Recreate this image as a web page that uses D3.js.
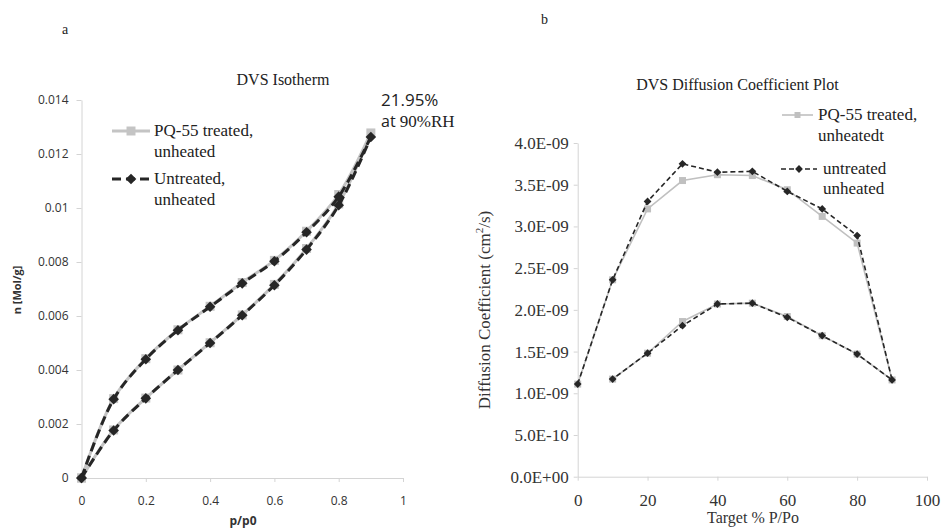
<!DOCTYPE html>
<html>
<head>
<meta charset="utf-8">
<script src="https://cdn.jsdelivr.net/npm/d3@7"></script>
<style>
  body { margin: 0; background: #fff; }
  svg { display: block; }
  .axis path, .axis line { stroke: #d4d4d4; }
  .sans text { font-family: "Open Sans", sans-serif; font-size: 12px; fill: #333; }
  .serif text { font-family: "Liberation Serif", "Times New Roman", serif; font-size: 17px; fill: #333; }
</style>
</head>
<body>
<div id="chart"></div>
<script>
// Data: panel a (DVS isotherm) - adsorption 0 -> 0.9, then desorption 0.9 -> 0
var isoX = [0, 0.1, 0.2, 0.3, 0.4, 0.5, 0.6, 0.7, 0.8, 0.9, 0.8, 0.7, 0.6, 0.5, 0.4, 0.3, 0.2, 0.1, 0];
var isoPQ = [0, 0.00178, 0.00296, 0.00400, 0.00501, 0.00604, 0.00717, 0.00850, 0.01015, 0.01278,
             0.01050, 0.00914, 0.00806, 0.00724, 0.00636, 0.00549, 0.00442, 0.00294, 0];
var isoUntreated = [0, 0.00176, 0.00295, 0.00400, 0.00500, 0.00603, 0.00714, 0.00846, 0.01010, 0.01263,
                    0.01042, 0.00910, 0.00803, 0.00721, 0.00634, 0.00547, 0.00440, 0.00292, 0];
var isoXTicks = [0, 0.2, 0.4, 0.6, 0.8, 1];
var isoYTicks = [0, 0.002, 0.004, 0.006, 0.008, 0.01, 0.012, 0.014];

// Data: panel b (diffusion coefficient) - sorption 0 -> 90, then desorption 80 -> 10
var difX = [0, 10, 20, 30, 40, 50, 60, 70, 80, 90, 80, 70, 60, 50, 40, 30, 20, 10];
var difPQ = [1.11e-9, 2.36e-9, 3.21e-9, 3.55e-9, 3.62e-9, 3.61e-9, 3.44e-9, 3.12e-9, 2.80e-9, 1.16e-9,
             1.47e-9, 1.69e-9, 1.92e-9, 2.08e-9, 2.07e-9, 1.86e-9, 1.48e-9, 1.17e-9];
var difUntreated = [1.11e-9, 2.36e-9, 3.30e-9, 3.75e-9, 3.65e-9, 3.66e-9, 3.42e-9, 3.21e-9, 2.89e-9, 1.16e-9,
                    1.47e-9, 1.69e-9, 1.91e-9, 2.08e-9, 2.07e-9, 1.81e-9, 1.48e-9, 1.17e-9];
var difXTicks = [0, 20, 40, 60, 80, 100];
var difYTicks = [0, 5e-10, 1e-9, 1.5e-9, 2e-9, 2.5e-9, 3e-9, 3.5e-9, 4e-9];
var difYLabels = ["0.0E+00", "5.0E-10", "1.0E-09", "1.5E-09", "2.0E-09", "2.5E-09", "3.0E-09", "3.5E-09", "4.0E-09"];

var svg = d3.select("#chart").append("svg")
  .attr("width", 942)
  .attr("height", 529);

svg.append("rect").attr("width", 942).attr("height", 529).attr("fill", "#fff");

var serif = "'Liberation Serif', 'Times New Roman', serif";
var sans = "'Open Sans', sans-serif";

function zipPts(xs, ys) {
  return xs.map(function(x, i) { return [x, ys[i]]; });
}

// ============================== Panel a ==============================
var xA = d3.scaleLinear().domain([0, 1]).range([81.5, 403]);
var yA = d3.scaleLinear().domain([0, 0.014]).range([478, 100]);

svg.append("g")
  .attr("class", "axis sans")
  .attr("transform", "translate(0,478)")
  .call(d3.axisBottom(xA).tickValues(isoXTicks).tickFormat(d3.format("~g")).tickSizeInner(4).tickSizeOuter(0).tickPadding(14));

svg.append("g")
  .attr("class", "axis sans")
  .attr("transform", "translate(81.5,0)")
  .call(d3.axisLeft(yA).tickValues(isoYTicks).tickFormat(d3.format("~g")).tickSizeInner(5).tickSizeOuter(0).tickPadding(8));

var smooth = d3.line().x(function(d) { return xA(d[0]); }).y(function(d) { return yA(d[1]); })
  .curve(d3.curveCatmullRom.alpha(0.5));

function drawIso(ys, style) {
  var pts = zipPts(isoX, ys);
  [pts.slice(0, 10), pts.slice(9)].forEach(function(branch) {
    svg.append("path")
      .attr("d", smooth(branch))
      .attr("fill", "none")
      .attr("stroke", style.color)
      .attr("stroke-width", style.width)
      .attr("stroke-dasharray", style.dash);
  });
  svg.append("g").selectAll("path")
    .data(pts)
    .enter()
    .append("path")
    .attr("d", d3.symbol(d3.symbolSquare, style.size * style.size))
    .attr("transform", function(d) {
      return "translate(" + xA(d[0]) + "," + yA(d[1]) + ") rotate(" + style.rot + ")";
    })
    .attr("fill", style.fill);
}

var pqStyleA = { color: "#c4c4c4", width: 3, dash: null, size: 9, rot: 0, fill: "#c4c4c4" };
var unStyleA = { color: "#262626", width: 3, dash: "9,5", size: 7.5, rot: 45, fill: "#262626" };
drawIso(isoPQ, pqStyleA);
drawIso(isoUntreated, unStyleA);

// legend a
function legendEntry(x1, x2, y, style, size) {
  svg.append("line")
    .attr("x1", x1).attr("x2", x2).attr("y1", y).attr("y2", y)
    .attr("stroke", style.color)
    .attr("stroke-width", style.width)
    .attr("stroke-dasharray", style.dash);
  svg.append("path")
    .attr("d", d3.symbol(d3.symbolSquare, size * size))
    .attr("transform", "translate(" + ((x1 + x2) / 2) + "," + y + ") rotate(" + style.rot + ")")
    .attr("fill", style.fill);
}
legendEntry(112, 150, 131, pqStyleA, 9);
legendEntry(112, 150, 179, unStyleA, 7.5);

function textLines(x, y, lines, gap, size) {
  lines.forEach(function(t, i) {
    svg.append("text")
      .attr("x", x).attr("y", y + i * gap)
      .attr("font-family", serif).attr("font-size", size).attr("fill", "#222")
      .text(t);
  });
}
textLines(154, 136, ["PQ-55 treated,", "unheated"], 21, 17);
textLines(154, 184, ["Untreated,", "unheated"], 21, 17);

svg.append("text")
  .attr("x", 283).attr("y", 85)
  .attr("text-anchor", "middle")
  .attr("font-family", serif).attr("font-size", 16).attr("fill", "#222")
  .text("DVS Isotherm");

svg.append("text")
  .attr("x", 62).attr("y", 34)
  .attr("font-family", serif).attr("font-size", 14).attr("fill", "#222")
  .text("a");

svg.append("text")
  .attr("x", 381).attr("y", 106)
  .attr("font-family", sans).attr("font-size", 17).attr("fill", "#222")
  .text("21.95%");

var rh = svg.append("text")
  .attr("x", 381).attr("y", 127)
  .attr("fill", "#222");
rh.append("tspan").attr("font-family", sans).attr("font-size", 16).text("at ");
rh.append("tspan").attr("font-family", serif).attr("font-size", 17).text("90%RH");

svg.append("text")
  .attr("x", 243).attr("y", 525)
  .attr("text-anchor", "middle")
  .attr("font-family", sans).attr("font-size", 12).attr("font-weight", "bold").attr("fill", "#333")
  .text("p/p0");

svg.append("text")
  .attr("transform", "translate(21,290) rotate(-90)")
  .attr("text-anchor", "middle")
  .attr("font-family", sans).attr("font-size", 11).attr("font-weight", "bold").attr("fill", "#333")
  .text("n [Mol/g]");

// ============================== Panel b ==============================
var xB = d3.scaleLinear().domain([0, 100]).range([577.7, 927]);
var yB = d3.scaleLinear().domain([0, 4e-9]).range([476.7, 143]);

svg.append("g")
  .attr("class", "axis serif")
  .attr("transform", "translate(0,476.7)")
  .call(d3.axisBottom(xB).tickValues(difXTicks).tickSizeInner(4).tickSizeOuter(0).tickPadding(13));

svg.append("g")
  .attr("class", "axis serif")
  .attr("transform", "translate(577.7,0)")
  .call(d3.axisLeft(yB).tickValues(difYTicks)
    .tickFormat(function(d, i) { return difYLabels[i]; })
    .tickSizeInner(4).tickSizeOuter(0).tickPadding(5));

var straight = d3.line().x(function(d) { return xB(d[0]); }).y(function(d) { return yB(d[1]); });

function drawDif(ys, style) {
  var pts = zipPts(difX, ys);
  svg.append("path")
    .attr("d", straight(pts))
    .attr("fill", "none")
    .attr("stroke", style.color)
    .attr("stroke-width", style.width)
    .attr("stroke-dasharray", style.dash);
  svg.append("g").selectAll("path")
    .data(pts)
    .enter()
    .append("path")
    .attr("d", d3.symbol(d3.symbolSquare, style.size * style.size))
    .attr("transform", function(d) {
      return "translate(" + xB(d[0]) + "," + yB(d[1]) + ") rotate(" + style.rot + ")";
    })
    .attr("fill", style.fill);
}

var pqStyleB = { color: "#c0c0c0", width: 1.6, dash: null, size: 7, rot: 0, fill: "#c0c0c0" };
var unStyleB = { color: "#262626", width: 1.6, dash: "5,3", size: 5.5, rot: 45, fill: "#262626" };
drawDif(difPQ, pqStyleB);
drawDif(difUntreated, unStyleB);

legendEntry(782, 813, 115, pqStyleB, 6);
legendEntry(781, 817, 169, unStyleB, 5.5);
textLines(818, 120, ["PQ-55 treated,", "unheatedt"], 21, 17);
textLines(823, 174, ["untreated", "unheated"], 20, 17);

svg.append("text")
  .attr("x", 737.5).attr("y", 90)
  .attr("text-anchor", "middle")
  .attr("font-family", serif).attr("font-size", 16).attr("fill", "#222")
  .text("DVS Diffusion Coefficient Plot");

svg.append("text")
  .attr("x", 541).attr("y", 24)
  .attr("font-family", serif).attr("font-size", 14).attr("fill", "#222")
  .text("b");

svg.append("text")
  .attr("x", 753).attr("y", 523)
  .attr("text-anchor", "middle")
  .attr("font-family", serif).attr("font-size", 16).attr("fill", "#333")
  .text("Target % P/Po");

var yl = svg.append("text")
  .attr("transform", "translate(490,310) rotate(-90)")
  .attr("text-anchor", "middle")
  .attr("font-family", serif).attr("font-size", 17).attr("fill", "#333");
yl.append("tspan").text("Diffusion Coefficient (cm");
yl.append("tspan").attr("font-size", 11).attr("dy", -7).text("2");
yl.append("tspan").attr("dy", 7).text("/s)");
</script>
</body>
</html>
